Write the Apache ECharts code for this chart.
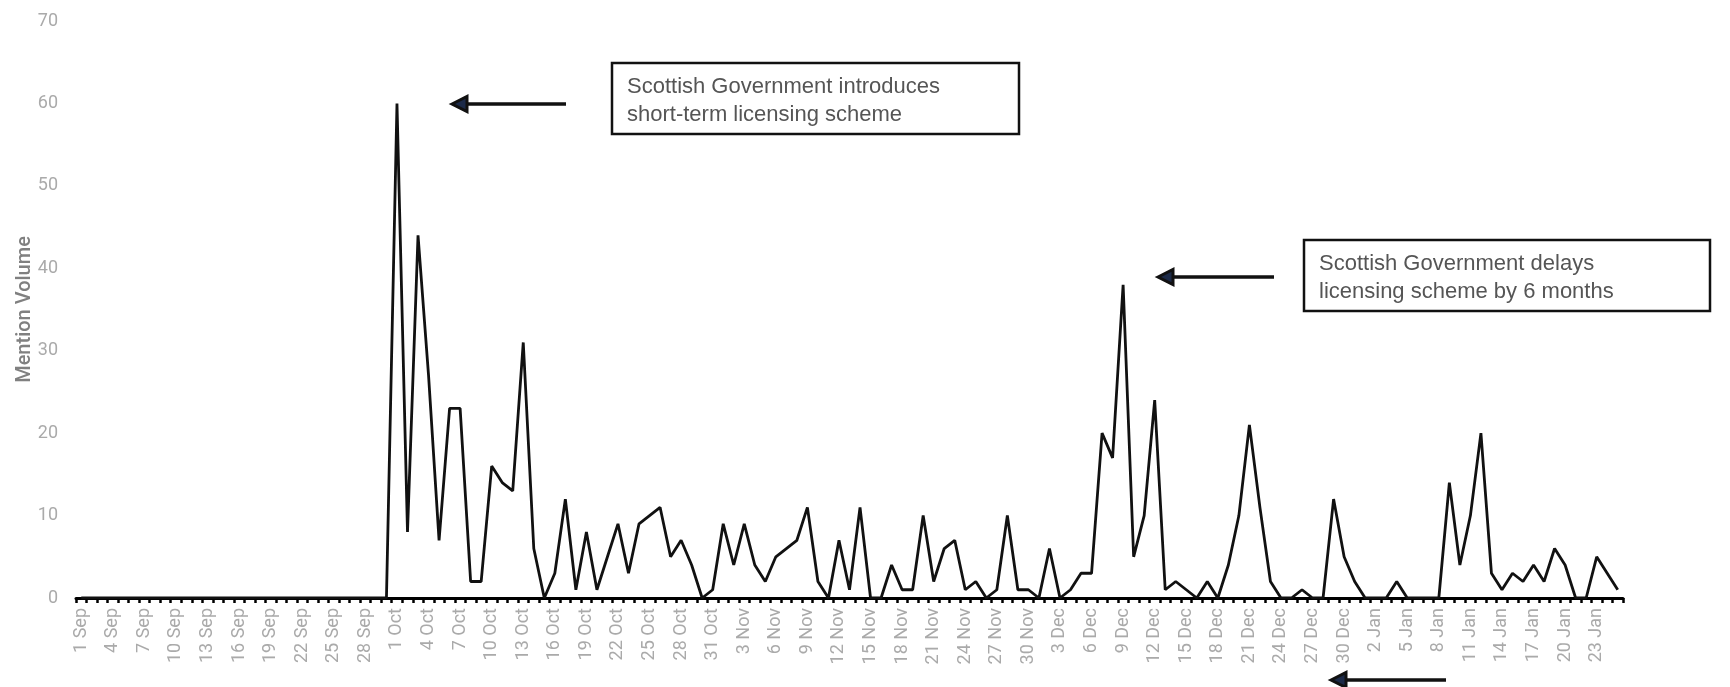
<!DOCTYPE html>
<html>
<head>
<meta charset="utf-8">
<script src="https://cdn.jsdelivr.net/npm/echarts@6/dist/echarts.min.js"></script>
<style>
html,body{margin:0;padding:0;background:#fff;}
#chart{width:1730px;height:687px;}
</style>
</head>
<body>
<div id="chart"></div>
<script>
// ---- data ----
const monthNames = ['Sep', 'Oct', 'Nov', 'Dec', 'Jan'];
const sepValues = [0,0,0,0,0,0,0,0,0,0,0,0,0,0,0,0,0,0,0,0,0,0,0,0,0,0,0,0,0,0];
const octValues = [60,8,44,27,7,23,23,2,2,16,14,13,31,6,0,3,12,1,8,1,5,9,3,9,10,11,5,7,4,0,1];
const novValues = [9,4,9,4,2,5,6,7,11,2,0,7,1,11,0,0,4,1,1,10,2,6,7,1,2,0,1,10,1,1];
const decValues = [0,6,0,1,3,3,20,17,38,5,10,24,1,2,1,0,2,0,4,10,21,11,2,0,0,1,0,0,12,5,2];
const janValues = [0,0,0,2,0,0,0,0,14,4,10,20,3,1,3,2,4,2,6,4,0,0,5,3,1];
const yTicks = { min: 0, max: 70, interval: 10 };
const yAxisName = 'Mention Volume';
const note1 = ['Scottish Government introduces', 'short-term licensing scheme'];
const note2 = ['Scottish Government delays', 'licensing scheme by 6 months'];

// build categories + series
const monthly = [sepValues, octValues, novValues, decValues, janValues];
const categories = [];
const values = [];
monthly.forEach((arr, m) => {
  arr.forEach((v, d) => {
    categories.push((d + 1) + ' ' + monthNames[m]);
    values.push(v);
  });
});

const chart = echarts.init(document.getElementById('chart'));

function arrow(x1, x2, y) {
  return [
    { type: 'line', shape: { x1: x1, y1: y, x2: x2 + 12, y2: y },
      style: { stroke: '#111', lineWidth: 3.5 }, z: 100 },
    { type: 'polygon', shape: { points: [[x2, y], [x2 + 15, y - 7.5], [x2 + 15, y + 7.5]] },
      style: { fill: '#1c2a48', stroke: '#111', lineWidth: 3, lineJoin: 'miter' }, z: 101 }
  ];
}

function noteBox(x, y, w, h, lines) {
  return [
    { type: 'rect', shape: { x: x, y: y, width: w, height: h },
      style: { fill: '#fff', stroke: '#111', lineWidth: 2.5 }, z: 100 },
    { type: 'text', left: x + 15, top: y + 10,
      style: { text: lines.join('\n'), fill: '#555', font: '22px "Liberation Sans", Arial, sans-serif', lineHeight: 28 }, z: 101 }
  ];
}

const option = {
  animation: false,
  backgroundColor: '#fff',
  grid: { left: 76, right: 107, top: 21, bottom: 89, containLabel: false },
  xAxis: {
    type: 'category',
    data: categories,
    boundaryGap: true,
    axisLine: { show: true, lineStyle: { color: '#000', width: 3 } },
    axisTick: { show: true, interval: 0, length: 5, lineStyle: { color: '#000', width: 2.5 } },
    axisLabel: {
      interval: 2, rotate: 90, margin: 10,
      color: '#aaaaaa', fontSize: 18, fontFamily: 'Roboto, sans-serif'
    },
    splitLine: { show: false }
  },
  yAxis: {
    type: 'value',
    min: yTicks.min, max: yTicks.max, interval: yTicks.interval,
    name: yAxisName,
    nameLocation: 'middle',
    nameGap: 41,
    nameMoveOverlap: false,
    nameTextStyle: { color: '#808080', fontSize: 20, fontFamily: 'Roboto, sans-serif', fontWeight: 500 },
    axisLine: { show: false },
    axisTick: { show: false },
    splitLine: { show: false },
    axisLabel: { margin: 18, color: '#aaaaaa', fontSize: 18, fontFamily: 'Roboto, sans-serif' }
  },
  series: [{
    type: 'line',
    data: values,
    showSymbol: false,
    symbol: 'none',
    lineStyle: { color: '#111', width: 2.8 },
    z: 5
  }],
  graphic: [].concat(
    noteBox(612, 63, 407, 71, note1),
    arrow(566, 452, 104),
    noteBox(1304, 240, 406, 71, note2),
    arrow(1274, 1158, 277),
    arrow(1446, 1331, 680)
  )
};
chart.setOption(option);
</script>
</body>
</html>
